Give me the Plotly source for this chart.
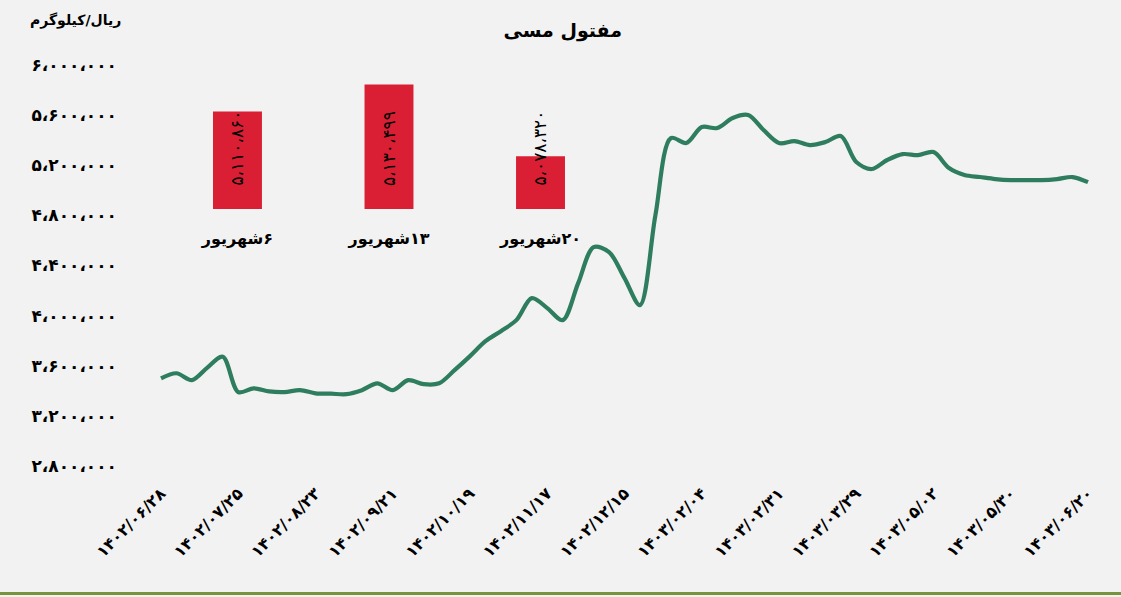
import plotly.graph_objects as go

# ---------------- data ----------------
date_labels = ["1402/06/28", "1402/07/25", "1402/08/23", "1402/09/21", "1402/10/19",
               "1402/11/17", "1402/12/15", "1403/02/04", "1403/02/31", "1403/03/29",
               "1403/05/02", "1403/05/30", "1403/06/20"]

price = [3500000, 3540000, 3485000, 3585000, 3672000, 3390000, 3420000, 3395000,
         3390000, 3405000, 3380000, 3377000, 3373000, 3405000, 3460000, 3405000,
         3485000, 3453000, 3460000, 3565000, 3677000, 3796000, 3876000, 3964000,
         4140000, 4060000, 3964000, 4259000, 4547000, 4507000, 4299000, 4084000,
         4802000, 5417000, 5377000, 5505000, 5497000, 5577000, 5601000, 5481000,
         5377000, 5393000, 5361000, 5385000, 5433000, 5226000, 5170000, 5242000,
         5289000, 5281000, 5305000, 5178000, 5122000, 5106000, 5090000, 5082000,
         5082000, 5082000, 5090000, 5106000, 5065000]

y_ticks = [2800000, 3200000, 3600000, 4000000, 4400000, 4800000, 5200000, 5600000, 6000000]

bar_cats = ["6شهریور", "13شهریور", "20شهریور"]
bar_vals = [5110860, 5130499, 5078320]

title_text = "مفتول مسی"
unit_text = "ریال/کیلوگرم"

# ---------------- helpers ----------------
FA = str.maketrans("0123456789,", "۰۱۲۳۴۵۶۷۸۹،")


def fa(s):
    if isinstance(s, (int, float)):
        s = f"{int(s):,}"
    return s.translate(FA)


def fa_cat(s):
    # RLM so the Persian digits sit on the right, as in an RTL paragraph
    return "\u200f" + fa(s)


FONT = "DejaVu Sans"
LINE_COLOR = "#2e7d5e"
BAR_COLOR = "#da1f35"
BG = "#f2f2f2"

step = (len(price) - 1) // (len(date_labels) - 1)
x_idx = list(range(len(price)))
tick_idx = x_idx[::step]

fig = go.Figure()

fig.add_trace(go.Scatter(
    x=x_idx, y=price, mode="lines",
    line=dict(color=LINE_COLOR, width=4.2, shape="spline", smoothing=0.9),
    hoverinfo="skip", showlegend=False,
))

cats = [fa_cat(c) for c in bar_cats]
fig.add_trace(go.Bar(
    x=cats, y=bar_vals, xaxis="x2", yaxis="y2",
    marker=dict(color=BAR_COLOR, line=dict(width=0)),
    showlegend=False, hoverinfo="skip",
))

annotations = []
for c, v in zip(cats, bar_vals):
    annotations.append(dict(
        x=c, xref="x2", y=0.783, yref="paper", text=fa(v), showarrow=False,
        textangle=-90, font=dict(family=FONT, size=17, color="black"),
        xanchor="center", yanchor="middle",
    ))

annotations.append(dict(
    x=-0.0177, xref="paper", y=1.0985, yref="paper", text=unit_text, showarrow=False,
    xanchor="right", yanchor="middle",
    font=dict(family=FONT, size=14, color="black", weight="bold"),
))

fig.update_layout(
    width=1121, height=597,
    margin=dict(l=140, r=20, t=60, b=131),
    paper_bgcolor=BG, plot_bgcolor=BG,
    font=dict(family=FONT, color="black"),
    title=dict(text=title_text, x=0.502, xref="container", xanchor="center",
               y=0.95, yref="container", yanchor="middle",
               font=dict(family=FONT, size=19, color="black", weight="bold")),
    bargap=0.677,
    xaxis=dict(range=[-1.36, 60.84], tickvals=tick_idx, ticktext=[fa(d) for d in date_labels],
               tickangle=-45, showgrid=False, zeroline=False, showline=False, ticks="",
               ticklabelstandoff=14,
               tickfont=dict(family=FONT, size=16, color="black", weight="bold")),
    yaxis=dict(range=[2800000, 6040000], tickvals=y_ticks, ticktext=[fa(v) for v in y_ticks],
               showgrid=False, zeroline=False, showline=False, ticks="",
               ticklabelstandoff=22,
               tickfont=dict(family=FONT, size=17, color="black", weight="bold")),
    xaxis2=dict(domain=[0.0226, 0.4956], anchor="y2", type="category",
                showgrid=False, zeroline=False, showline=False, ticks="",
                ticklabelstandoff=18,
                tickfont=dict(family=FONT, size=16, color="black", weight="bold")),
    yaxis2=dict(domain=[0.633, 0.9507], anchor="x2", range=[5040000, 5133835],
                visible=False, showgrid=False, zeroline=False),
    annotations=annotations,
    shapes=[dict(type="rect", xref="paper", yref="paper", x0=-0.2, x1=1.1,
                 y0=-0.3103, y1=-0.3177, fillcolor="#77933c", line=dict(width=0), layer="above")],
)

fig.write_html("out.html")
